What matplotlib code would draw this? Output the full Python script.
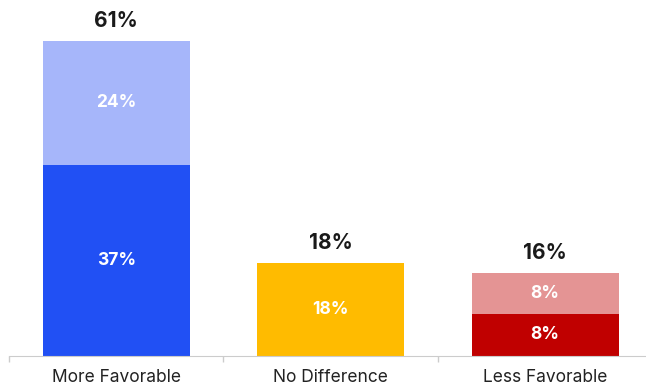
import matplotlib.pyplot as plt
import numpy as np

categories = ['More Favorable', 'No Difference', 'Less Favorable']
bottom_vals = [37, 18, 8]
top_vals = [24, 0, 8]
totals = [61, 18, 16]
bottom_colors = ['#2150f4', '#ffbb00', '#c00000']
top_colors = ['#a6b6fa', '#ffbb00', '#e49494']

plt.rcParams['font.family'] = ['Inter', 'DejaVu Sans']

fig = plt.figure(figsize=(6.46, 3.85), dpi=100)
# axes placed in pixel terms: baseline at y=355.5, left tick at x=9
ax = fig.add_axes([9 / 646, (385 - 355.5) / 385, 643.5 / 646, 351 / 385])

x = np.arange(len(categories))
w = 0.685
ax.bar(x, bottom_vals, width=w, color=bottom_colors)
ax.bar(x, top_vals, width=w, bottom=bottom_vals, color=top_colors)

for i in range(len(categories)):
    ax.text(x[i], bottom_vals[i] / 2, f'{bottom_vals[i]}%', ha='center', va='center',
            color='white', fontsize=12.5, fontweight='bold')
    if top_vals[i] > 0:
        ax.text(x[i], bottom_vals[i] + top_vals[i] / 2, f'{top_vals[i]}%', ha='center',
                va='center', color='white', fontsize=12.5, fontweight='bold')
    ax.annotate(f'{totals[i]}%', (x[i], totals[i]), xytext=(0, 14), textcoords='offset points',
                ha='center', va='center', color='#1a1a1a', fontsize=15, fontweight='bold')

ax.set_xlim(-0.5, 2.5)
ax.set_ylim(0, 68)
ax.set_xticks(x)
ax.set_xticklabels(categories, fontsize=12.5, color='#222222')
ax.set_xticks([-0.5, 0.5, 1.5, 2.5], minor=True)
ax.tick_params(axis='x', which='major', length=0, pad=10)
ax.tick_params(axis='x', which='minor', length=4, color='#cccccc', width=1)
ax.set_yticks([])
for s in ['top', 'right', 'left']:
    ax.spines[s].set_visible(False)
ax.spines['bottom'].set_color('#cccccc')

fig.savefig('out.png', dpi=100)
